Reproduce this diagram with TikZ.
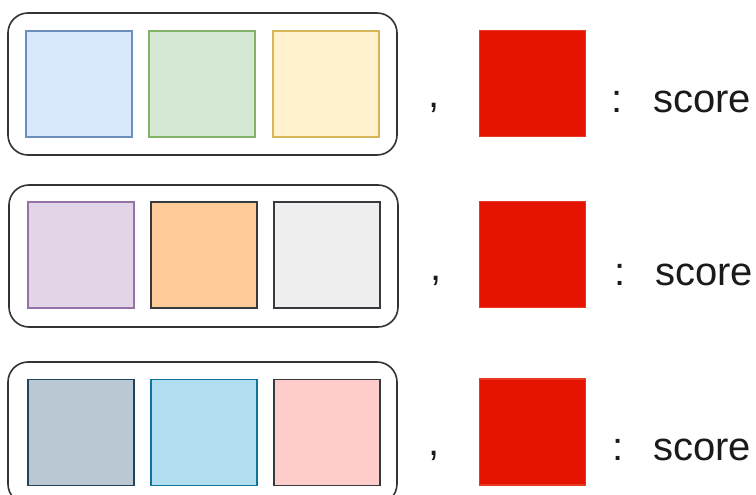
\documentclass[tikz,border=0pt]{standalone}
\usepackage{fontspec}
\setmainfont{Liberation Sans}
\definecolor{bluef}{HTML}{DAE8FC}\definecolor{blued}{HTML}{6C8EBF}
\definecolor{greenf}{HTML}{D5E8D4}\definecolor{greend}{HTML}{82B366}
\definecolor{yellowf}{HTML}{FFF2CC}\definecolor{yellowd}{HTML}{D6B656}
\definecolor{purplef}{HTML}{E1D5E7}\definecolor{purpled}{HTML}{9673A6}
\definecolor{orangef}{HTML}{FFCC99}\definecolor{darkd}{HTML}{36393D}
\definecolor{greyf}{HTML}{EEEEEE}
\definecolor{slatef}{HTML}{BAC8D3}\definecolor{slated}{HTML}{23445D}
\definecolor{lbluef}{HTML}{B1DDF0}\definecolor{lblued}{HTML}{10739E}
\definecolor{pinkf}{HTML}{FFCCCC}
\definecolor{redf}{HTML}{E51400}
\definecolor{boxd}{HTML}{333333}
\definecolor{txtc}{HTML}{1A1A1A}
\tikzset{
  grp/.style={draw=boxd, line width=1.6pt, rounded corners=20pt, fill=white},
  sq/.style={rectangle, inner sep=0pt, minimum width=106pt, minimum height=106pt, line width=1.3pt},
  redsq/.style={sq, fill=redf, draw=redf!85!white},
  txt/.style={inner sep=0pt, anchor=base, text=txtc, font=\fontsize{40}{48}\selectfont},
}
\begin{document}
\begin{tikzpicture}[x=1pt,y=-1pt]
\useasboundingbox (0,0) rectangle (756,495);
\clip (0,0) rectangle (756,495);
% row 1
\draw[grp] (8,13) rectangle (397,155);
\node[sq, fill=bluef, draw=blued] (a1) at (79,84) {};
\node[sq, fill=greenf, draw=greend] (b1) at (202,84) {};
\node[sq, fill=yellowf, draw=yellowd] (c1) at (326,84) {};
\node[txt] (m1) at (434,108) {,};
\node[redsq] (r1) at (532.5,83.5) {};
\node[txt] (k1) at (617,113) {:};
\node[txt, anchor=base west] (s1) at (653,113) {score};
% row 2
\draw[grp] (9,185) rectangle (398,327);
\node[sq, fill=purplef, draw=purpled] (a2) at (81,255) {};
\node[sq, fill=orangef, draw=darkd] (b2) at (204,255) {};
\node[sq, fill=greyf, draw=darkd] (c2) at (327,255) {};
\node[txt] (m2) at (436,280) {,};
\node[redsq] (r2) at (532.5,254.5) {};
\node[txt] (k2) at (620,285) {:};
\node[txt, anchor=base west] (s2) at (655,285) {score};
% row 3
\draw[grp] (8,362) rectangle (397,504);
\node[sq, fill=slatef, draw=slated] (a3) at (81,432.5) {};
\node[sq, fill=lbluef, draw=lblued] (b3) at (204,432.5) {};
\node[sq, fill=pinkf, draw=darkd] (c3) at (327,432.5) {};
\node[txt] (m3) at (434,455) {,};
\node[redsq] (r3) at (532.5,432) {};
\node[txt] (k3) at (618,460) {:};
\node[txt, anchor=base west] (s3) at (653,460) {score};
\end{tikzpicture}
\end{document}
